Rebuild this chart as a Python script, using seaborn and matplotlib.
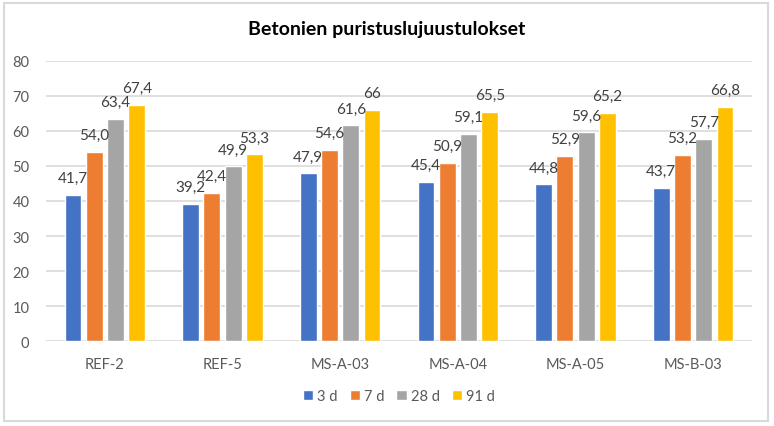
import pandas as pd
import matplotlib
matplotlib.use("Agg")
import matplotlib.pyplot as plt
import seaborn as sns
from matplotlib.patches import Rectangle

# chart data
samples = ["REF-2", "REF-5", "MS-A-03", "MS-A-04", "MS-A-05", "MS-B-03"]
ages = ["3 d", "7 d", "28 d", "91 d"]
strength_3d = [41.7, 39.2, 47.9, 45.4, 44.8, 43.7]
strength_7d = [54.0, 42.4, 54.6, 50.9, 52.9, 53.2]
strength_28d = [63.4, 49.9, 61.6, 59.1, 59.6, 57.7]
strength_91d = [67.4, 53.3, 66.0, 65.5, 65.2, 66.8]
# one label in the source is shown without a decimal
label_overrides = {("MS-A-03", "91 d"): "66"}

colors = ["#4472C4", "#ED7D31", "#A5A5A5", "#FFC000"]

rows = []
for age, vals in zip(ages, [strength_3d, strength_7d, strength_28d, strength_91d]):
    for s, v in zip(samples, vals):
        rows.append({"sample": s, "age": age, "value": v})
df = pd.DataFrame(rows)

sns.set_theme(style="white")
plt.rcParams["font.family"] = ["Lato", "DejaVu Sans"]

fig = plt.figure(figsize=(7.74, 4.27), dpi=100)
ax = fig.add_axes([46 / 774, 1 - 342.3 / 427, 706 / 774, 280.6 / 427])

sns.barplot(data=df, x="sample", y="value", hue="age", order=samples, hue_order=ages,
            palette=colors, saturation=1, width=0.724, gap=0.215, ax=ax, zorder=3)

for container, age in zip(ax.containers, ages):
    labels = []
    for s, bar in zip(samples, container):
        txt = label_overrides.get((s, age), f"{bar.get_height():.1f}".replace(".", ","))
        labels.append(txt)
    ax.bar_label(container, labels=labels, padding=7, fontsize=11, color="#404040")

ax.set_ylim(0, 80)
ax.set_yticks(range(0, 81, 10))
ax.set_xlim(-0.5, len(samples) - 0.5)
ax.yaxis.grid(True, color="#D9D9D9", linewidth=1.2, zorder=0)
ax.set_axisbelow(True)
for sp in ax.spines.values():
    sp.set_visible(False)
ax.tick_params(axis="both", length=0, labelsize=10.5, labelcolor="#595959")
ax.tick_params(axis="x", pad=11)
ax.tick_params(axis="y", pad=12)
ax.set_xlabel("")
ax.set_ylabel("")

fig.text(0.5, 1 - 30 / 427, "Betonien puristuslujuustulokset", ha="center", va="center",
         fontsize=14, fontweight="bold", color="#000000")

handles, lbls = ax.get_legend_handles_labels()
ax.legend(handles, lbls, loc="center", bbox_to_anchor=(0.5, (-(397 - 342.3)) / 280.6),
          ncol=4, frameon=False, fontsize=10.5, handlelength=0.7, handleheight=0.7,
          handletextpad=0.3, columnspacing=0.8, labelcolor="#595959")

fig.patches.append(Rectangle((4 / 774, 5 / 427), 764 / 774, 418 / 427, transform=fig.transFigure,
                             fill=False, edgecolor="#D9D9D9", linewidth=1.5))

fig.savefig("out.png", dpi=100)
